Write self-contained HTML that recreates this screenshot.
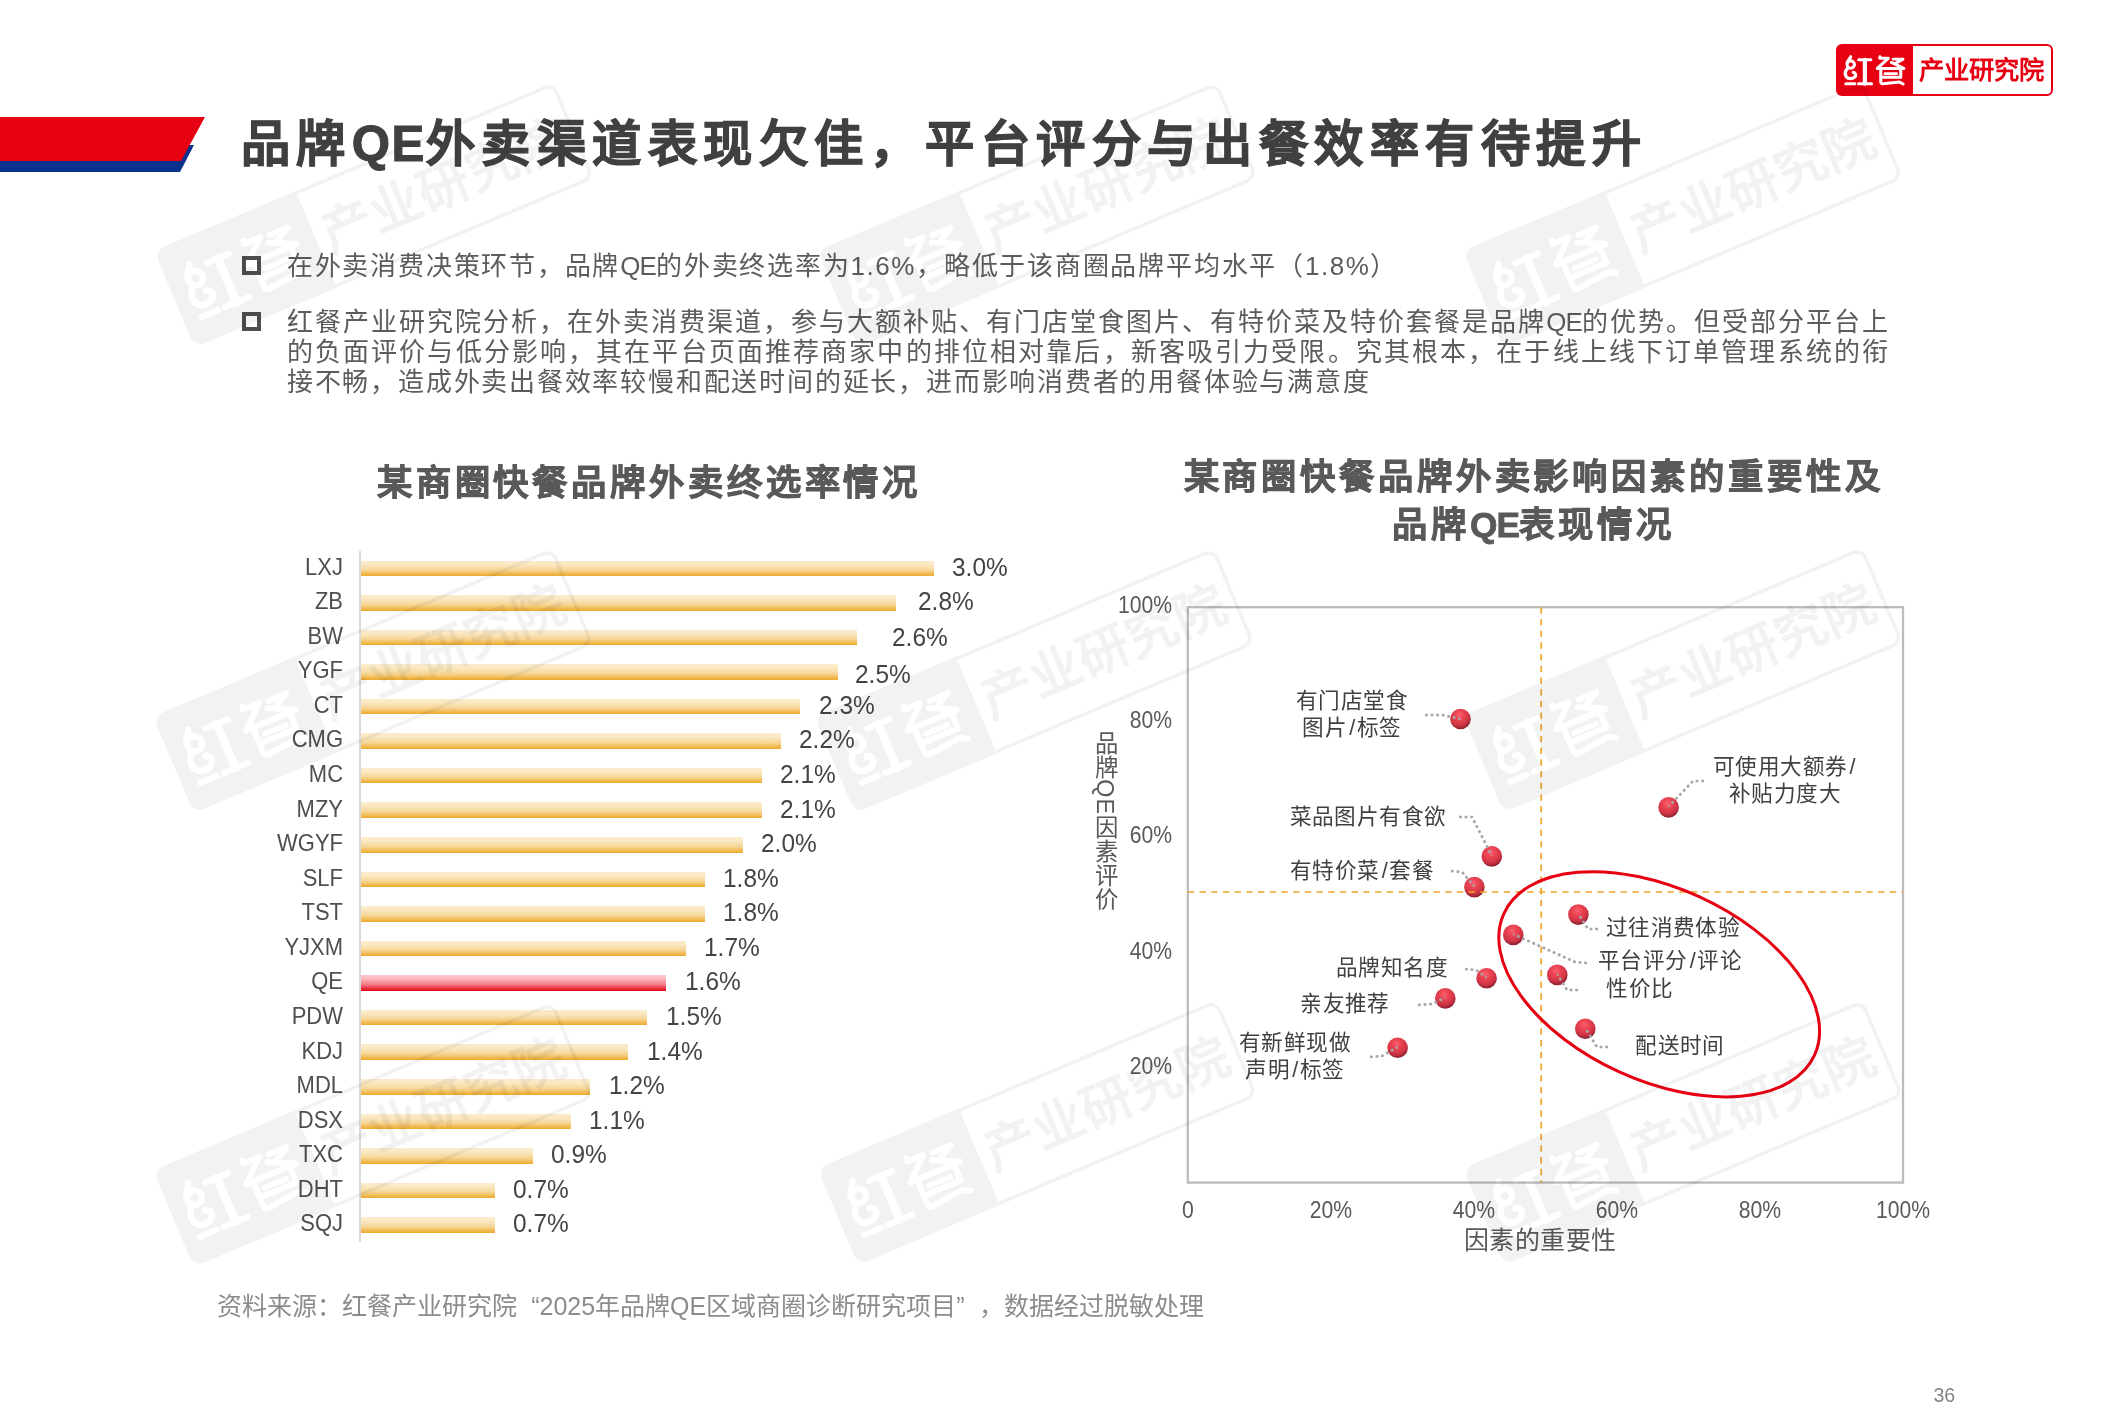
<!DOCTYPE html>
<html lang="zh-CN">
<head>
<meta charset="utf-8">
<title>品牌QE外卖渠道表现欠佳</title>
<style>
html,body{margin:0;padding:0;background:#fff;}
body{width:2126px;height:1418px;position:relative;overflow:hidden;font-family:"Liberation Sans",sans-serif;color:#404040;}
#title{position:absolute;left:240.6px;top:104.9px;font-size:49.2px;line-height:78px;font-weight:bold;letter-spacing:6.52px;color:#404040;white-space:nowrap;-webkit-text-stroke:1.05px #404040;}
#title span{letter-spacing:1.5px;}
.sq{position:absolute;left:241.8px;width:11.5px;height:11px;border:4px solid #4d4d4d;}
.body{position:absolute;left:286.8px;width:1603px;font-size:26px;line-height:30.2px;letter-spacing:1.79px;color:#5c5c5c;white-space:nowrap;}
.body .e{letter-spacing:-0.96px;}
.body .n{letter-spacing:1.55px;}
.body .j{text-align:justify;text-align-last:justify;}
.ctitle{position:absolute;font-weight:bold;color:#595959;-webkit-text-stroke:0.8px #595959;font-size:35.3px;line-height:48px;letter-spacing:3.88px;text-align:center;white-space:nowrap;}
.ctitle span{letter-spacing:-0.8px;}
#axisL{position:absolute;left:359px;top:551px;width:2px;height:691px;background:#d9d9d9;}
.bar{position:absolute;left:361.0px;height:15.5px;background:linear-gradient(to bottom,#fbeccd 0%,#fae8c2 25%,#f6d696 60%,#efb445 90%,#eda828 100%);}
.bar.qe{background:linear-gradient(to bottom,#fdc9cd 0%,#fbb4ba 25%,#f47a85 60%,#e8202f 90%,#e60012 100%);}
.cat{position:absolute;left:143px;width:200px;text-align:right;font-size:23.9px;line-height:30px;color:#4f4f4f;white-space:nowrap;transform:scaleX(0.92);transform-origin:100% 50%;}
.val{position:absolute;font-size:25.2px;line-height:30px;color:#444;white-space:nowrap;transform:scaleX(0.97);transform-origin:0 50%;}
#src{position:absolute;left:217px;top:1288px;font-size:25px;line-height:36px;color:#8c8c8c;white-space:nowrap;}
#src .q{display:inline-block;width:22.5px;}
#pg{position:absolute;left:1924.3px;top:1382.5px;width:40px;text-align:center;font-size:19.6px;line-height:24px;color:#858585;}
.ytick{position:absolute;left:1072px;width:100px;text-align:right;font-size:23px;line-height:30px;color:#595959;transform:scaleX(0.92);transform-origin:100% 50%;}
.xtick{position:absolute;top:1195px;width:100px;text-align:center;font-size:23px;line-height:30px;color:#595959;transform:scaleX(0.92);}
#xtitle{position:absolute;left:1390px;top:1222px;width:300px;text-align:center;font-size:25px;line-height:36px;color:#595959;letter-spacing:0.5px;}
#ytitle{position:absolute;left:1089.2px;top:730.7px;width:32px;height:200px;writing-mode:vertical-rl;font-size:23.4px;line-height:32px;color:#595959;letter-spacing:1.1px;white-space:nowrap;}
.plab{position:absolute;width:300px;text-align:center;font-size:21.6px;line-height:30px;color:#404040;white-space:nowrap;letter-spacing:0.4px;}
.plab .sl{padding:0 1.2px 0 2.2px;}
svg{position:absolute;left:0;top:0;}
#logo{position:absolute;left:1836px;top:44.2px;width:213px;height:48.2px;border:2px solid #e60012;border-radius:6px;background:linear-gradient(to right,#e60012 75.3px,#fff 75.3px);}
#logo .l{position:absolute;left:0;top:0;width:75px;height:49px;color:#fff;font-weight:bold;font-size:30px;line-height:51px;text-align:center;letter-spacing:0px;}
#logo .r{position:absolute;left:75px;top:0;width:137px;height:49px;color:#e60012;font-weight:bold;font-size:25.3px;line-height:48.4px;text-align:center;}
#wmlayer{mix-blend-mode:multiply;}
</style>
</head>
<body>
<!-- header decoration -->
<svg width="2126" height="1418" viewBox="0 0 2126 1418">
<defs>
<g id="hc" transform="scale(0.03763)" fill="none" stroke-linecap="round" stroke-linejoin="round">
<path stroke-width="84" d="M392,338 C372,400 300,430 290,520 M480,505 A98,98 0 1 1 440,462"/>
<path stroke-width="88" d="M300,655 C245,720 230,800 275,870 C330,945 450,935 505,870 C540,820 515,770 460,755"/>
<path stroke-width="82" d="M262,1055 L500,1055"/>
<path stroke-width="82" d="M605,420 L925,420 M600,1055 L945,1055"/>
<path stroke-width="112" d="M768,420 L768,1055"/>
<path stroke-width="78" d="M1168,335 L1168,380 M1160,380 L1390,380 L1105,640"/>
<path stroke-width="78" d="M1520,402 L1780,402 L1580,515"/>
<path stroke-width="78" d="M1470,490 L1800,645"/>
<path stroke-width="82" d="M1100,652 L1800,652"/>
<path stroke-width="80" d="M1190,660 L1190,1010 Q1190,1062 1250,1056 L1690,1012 L1785,1062"/>
<path stroke-width="80" d="M1720,660 L1720,885 L1200,885"/>
<path stroke-width="72" d="M1300,790 L1610,790"/>
</g>
</defs>
<polygon points="0,145 194,145 180,172 0,172" fill="#0b318f"/>
<polygon points="0,117 205,117 181,161 0,161" fill="#e60012"/>
</svg>

<div id="logo"><div class="l"><svg width="80" height="53" viewBox="0 0 80 53" style="left:-2px;top:-2.2px"><title>红餐</title><use href="#hc" stroke="#fff"/></svg></div><div class="r">产业研究院</div></div>

<div id="title">品牌<span>QE</span>外卖渠道表现欠佳，平台评分与出餐效率有待提升</div>

<div class="sq" style="top:255.8px"></div>
<div class="body" style="top:251px">在外卖消费决策环节，品牌<span class="e">QE</span>的外卖终选率为<span class="n">1.6%</span>，略低于该商圈品牌平均水平（<span class="n">1.8%</span>）</div>
<div class="sq" style="top:311.6px"></div>
<div class="body" style="top:307px"><div class="j">红餐产业研究院分析，在外卖消费渠道，参与大额补贴、有门店堂食图片、有特价菜及特价套餐是品牌<span class="e">QE</span>的优势。但受部分平台上</div><div class="j">的负面评价与低分影响，其在平台页面推荐商家中的排位相对靠后，新客吸引力受限。究其根本，在于线上线下订单管理系统的衔</div><div>接不畅，造成外卖出餐效率较慢和配送时间的延长，进而影响消费者的用餐体验与满意度</div></div>

<!-- left chart -->
<div class="ctitle" style="left:349px;top:459.3px;width:600px">某商圈快餐品牌外卖终选率情况</div>
<div id="axisL"></div>
<div class="bar" style="top:560.5px;width:572.7px"></div>
<div class="cat" style="top:551.5px">LXJ</div>
<div class="val" style="top:551.5px;left:952.1px">3.0%</div>
<div class="bar" style="top:595.0px;width:534.5px"></div>
<div class="cat" style="top:586.1px">ZB</div>
<div class="val" style="top:585.6px;left:917.6px">2.8%</div>
<div class="bar" style="top:629.6px;width:496.3px"></div>
<div class="cat" style="top:620.6px">BW</div>
<div class="val" style="top:621.8px;left:891.6px">2.6%</div>
<div class="bar" style="top:664.2px;width:477.2px"></div>
<div class="cat" style="top:655.2px">YGF</div>
<div class="val" style="top:659.3px;left:855.1px">2.5%</div>
<div class="bar" style="top:698.7px;width:439.1px"></div>
<div class="cat" style="top:689.8px">CT</div>
<div class="val" style="top:689.8px;left:818.5px">2.3%</div>
<div class="bar" style="top:733.3px;width:420.0px"></div>
<div class="cat" style="top:724.4px">CMG</div>
<div class="val" style="top:724.4px;left:799.4px">2.2%</div>
<div class="bar" style="top:767.9px;width:400.9px"></div>
<div class="cat" style="top:758.9px">MC</div>
<div class="val" style="top:758.9px;left:780.3px">2.1%</div>
<div class="bar" style="top:802.4px;width:400.9px"></div>
<div class="cat" style="top:793.5px">MZY</div>
<div class="val" style="top:793.5px;left:780.3px">2.1%</div>
<div class="bar" style="top:837.0px;width:381.8px"></div>
<div class="cat" style="top:828.1px">WGYF</div>
<div class="val" style="top:828.1px;left:761.2px">2.0%</div>
<div class="bar" style="top:871.6px;width:343.6px"></div>
<div class="cat" style="top:862.6px">SLF</div>
<div class="val" style="top:862.6px;left:723.0px">1.8%</div>
<div class="bar" style="top:906.2px;width:343.6px"></div>
<div class="cat" style="top:897.2px">TST</div>
<div class="val" style="top:897.2px;left:723.0px">1.8%</div>
<div class="bar" style="top:940.7px;width:324.5px"></div>
<div class="cat" style="top:931.8px">YJXM</div>
<div class="val" style="top:931.8px;left:703.9px">1.7%</div>
<div class="bar qe" style="top:975.3px;width:305.4px"></div>
<div class="cat" style="top:966.3px">QE</div>
<div class="val" style="top:966.3px;left:684.8px">1.6%</div>
<div class="bar" style="top:1009.9px;width:286.4px"></div>
<div class="cat" style="top:1000.9px">PDW</div>
<div class="val" style="top:1000.9px;left:665.8px">1.5%</div>
<div class="bar" style="top:1044.4px;width:267.3px"></div>
<div class="cat" style="top:1035.5px">KDJ</div>
<div class="val" style="top:1035.5px;left:646.7px">1.4%</div>
<div class="bar" style="top:1079.0px;width:229.1px"></div>
<div class="cat" style="top:1070.0px">MDL</div>
<div class="val" style="top:1070.0px;left:608.5px">1.2%</div>
<div class="bar" style="top:1113.6px;width:210.0px"></div>
<div class="cat" style="top:1104.6px">DSX</div>
<div class="val" style="top:1104.6px;left:589.4px">1.1%</div>
<div class="bar" style="top:1148.1px;width:171.8px"></div>
<div class="cat" style="top:1139.2px">TXC</div>
<div class="val" style="top:1139.2px;left:551.2px">0.9%</div>
<div class="bar" style="top:1182.7px;width:133.6px"></div>
<div class="cat" style="top:1173.8px">DHT</div>
<div class="val" style="top:1173.8px;left:513.0px">0.7%</div>
<div class="bar" style="top:1217.3px;width:133.6px"></div>
<div class="cat" style="top:1208.3px">SQJ</div>
<div class="val" style="top:1208.3px;left:513.0px">0.7%</div>

<!-- right chart -->
<div class="ctitle" style="left:1133.5px;top:453.4px;width:800px">某商圈快餐品牌外卖影响因素的重要性及<br>品牌<span>QE</span>表现情况</div>
<div class="ytick" style="top:1050.9px">20%</div>
<div class="ytick" style="top:935.6px">40%</div>
<div class="ytick" style="top:820.4px">60%</div>
<div class="ytick" style="top:705.1px">80%</div>
<div class="ytick" style="top:589.9px">100%</div>
<div class="xtick" style="left:1137.8px">0</div>
<div class="xtick" style="left:1280.8px">20%</div>
<div class="xtick" style="left:1423.9px">40%</div>
<div class="xtick" style="left:1566.9px">60%</div>
<div class="xtick" style="left:1710.0px">80%</div>
<div class="xtick" style="left:1853.0px">100%</div>
<div id="xtitle">因素的重要性</div>
<div id="ytitle">品牌QE因素评价</div>
<div class="plab" style="left:1202px;top:686px">有门店堂食</div>
<div class="plab" style="left:1202px;top:713px">图片<span class="sl">/</span>标签</div>
<div class="plab" style="left:1635px;top:752px">可使用大额券<span class="sl">/</span></div>
<div class="plab" style="left:1635px;top:779px">补贴力度大</div>
<div class="plab" style="left:1218px;top:802px">菜品图片有食欲</div>
<div class="plab" style="left:1212px;top:856px">有特价菜<span class="sl">/</span>套餐</div>
<div class="plab" style="left:1523px;top:913px">过往消费体验</div>
<div class="plab" style="left:1520px;top:946px">平台评分<span class="sl">/</span>评论</div>
<div class="plab" style="left:1490px;top:974px">性价比</div>
<div class="plab" style="left:1242px;top:953px">品牌知名度</div>
<div class="plab" style="left:1195px;top:989px">亲友推荐</div>
<div class="plab" style="left:1530px;top:1031px">配送时间</div>
<div class="plab" style="left:1145px;top:1028px">有新鲜现做</div>
<div class="plab" style="left:1145px;top:1055px">声明<span class="sl">/</span>标签</div>

<svg width="2126" height="1418" viewBox="0 0 2126 1418">
<defs>
<radialGradient id="ball" cx="0.45" cy="0.32" r="0.62" fx="0.45" fy="0.30">
<stop offset="0" stop-color="#fc6070"/>
<stop offset="0.38" stop-color="#ea4352"/>
<stop offset="0.75" stop-color="#d43646"/>
<stop offset="0.92" stop-color="#b62c3c"/>
<stop offset="1" stop-color="#962432"/>
</radialGradient>
</defs>
<rect x="1187.8" y="607.2" width="715.2" height="575.4" fill="none" stroke="#bcbcbc" stroke-width="2.3"/>
<circle cx="1460.5" cy="719.0" r="10.3" fill="url(#ball)"/>
<circle cx="1668.6" cy="807.4" r="10.3" fill="url(#ball)"/>
<circle cx="1491.8" cy="856.4" r="10.3" fill="url(#ball)"/>
<circle cx="1474.4" cy="887.1" r="10.3" fill="url(#ball)"/>
<circle cx="1578.4" cy="914.6" r="10.3" fill="url(#ball)"/>
<circle cx="1513.3" cy="934.9" r="10.3" fill="url(#ball)"/>
<circle cx="1557.3" cy="974.9" r="10.3" fill="url(#ball)"/>
<circle cx="1486.6" cy="978.2" r="10.3" fill="url(#ball)"/>
<circle cx="1445.3" cy="998.4" r="10.3" fill="url(#ball)"/>
<circle cx="1585.3" cy="1028.7" r="10.3" fill="url(#ball)"/>
<circle cx="1397.6" cy="1047.7" r="10.3" fill="url(#ball)"/>
<line x1="1541.2" y1="607.2" x2="1541.2" y2="1182.6" stroke="#efa52c" stroke-width="1.7" stroke-dasharray="6.4 5.3"/>
<line x1="1187.8" y1="892" x2="1903.0" y2="892" stroke="#efa52c" stroke-width="1.7" stroke-dasharray="6.4 5.3"/>
<g fill="none" stroke="#a6a6a6" stroke-width="2.6" stroke-dasharray="2.8 2.8">
<polyline points="1425.0,715.0 1442.0,715.0 1460.5,719.0"/>
<polyline points="1704.0,781.0 1693.0,781.0 1668.6,806.7"/>
<polyline points="1459.0,817.0 1472.0,817.0 1491.8,855.7"/>
<polyline points="1451.0,871.0 1462.0,872.0 1474.4,886.4"/>
<polyline points="1598.0,929.0 1588.0,929.0 1578.4,913.9"/>
<polyline points="1587.0,963.0 1575.0,962.0 1513.3,934.2"/>
<polyline points="1578.0,990.0 1567.0,990.0 1557.3,974.2"/>
<polyline points="1465.0,969.0 1476.0,970.0 1486.6,977.5"/>
<polyline points="1418.0,1005.0 1432.0,1004.0 1445.3,997.7"/>
<polyline points="1608.0,1047.0 1597.0,1047.0 1585.3,1028.0"/>
<polyline points="1370.0,1057.0 1382.0,1056.0 1397.6,1047.0"/>
</g>
<ellipse cx="1659.2" cy="984.3" rx="170.7" ry="96.3" transform="rotate(24.5 1659.2 984.3)" fill="none" stroke="#e60012" stroke-width="3"/>
</svg>

<div id="src">资料来源：红餐产业研究院<span class="q" style="text-align:right">“</span>2025年品牌QE区域商圈诊断研究项目<span class="q" style="text-align:left">”</span>，数据经过脱敏处理</div>
<div id="pg">36</div>

<!-- watermark -->
<svg id="wmlayer" width="2126" height="1418" viewBox="0 0 2126 1418">
<defs>
<g id="wm">
<path d="M11,0 H153.6 V104.6 H11 A11,11 0 0 1 0,93.6 V11 A11,11 0 0 1 11,0 Z" fill="#f2f2f2"/>
<rect x="1.75" y="1.75" width="430.5" height="101.1" rx="9.5" ry="9.5" fill="none" stroke="#f2f2f2" stroke-width="3.5"/>
<use href="#hc" stroke="#ffffff" transform="translate(-2,0) scale(2)"/>
<text x="292.2" y="70.8" text-anchor="middle" font-size="51.5" font-weight="bold" fill="#f2f2f2">产业研究院</text>
</g>
</defs>
<use href="#wm" transform="translate(154.2,250.9) rotate(-22.9)"/>
<use href="#wm" transform="translate(817.4,250.9) rotate(-22.9)"/>
<use href="#wm" transform="translate(1463.0,250.9) rotate(-22.9)"/>
<use href="#wm" transform="translate(153.2,716.6) rotate(-22.9)"/>
<use href="#wm" transform="translate(814.5,716.6) rotate(-22.9)"/>
<use href="#wm" transform="translate(1463.1,715.6) rotate(-22.9)"/>
<use href="#wm" transform="translate(153.2,1170.5) rotate(-22.9)"/>
<use href="#wm" transform="translate(817.4,1168.5) rotate(-22.9)"/>
<use href="#wm" transform="translate(1463.3,1168.5) rotate(-22.9)"/>
</svg>
</body>
</html>
